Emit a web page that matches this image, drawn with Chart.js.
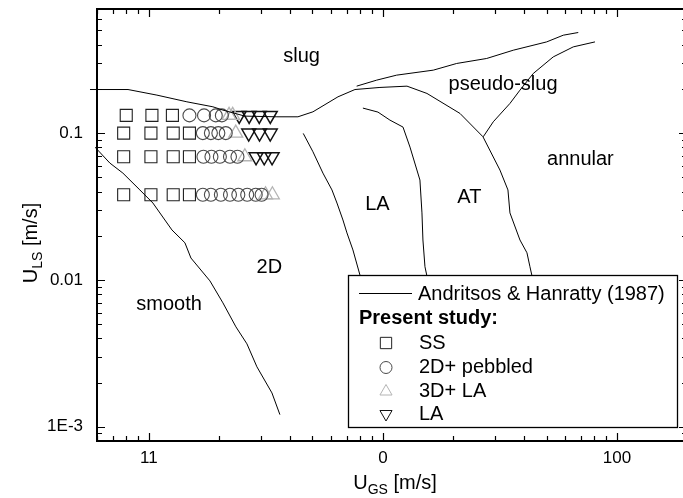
<!DOCTYPE html>
<html lang="en">
<head>
<meta charset="UTF-8">
<title>Flow regime map</title>
<script src="https://cdn.jsdelivr.net/npm/chart.js"></script>
<style>
  html, body { margin: 0; padding: 0; background: #fff; overflow: hidden; }
  canvas { display: block; }
</style>
</head>
<body>
<canvas id="regimeChart" width="683" height="498"></canvas>
<script>
// Andritsos & Hanratty (1987) transition lines, U_GS / U_LS in m/s
const slugAnnularX = [0.56, 0.814, 1.082, 1.453, 1.877, 2.071, 2.572, 3.524, 4.333, 5.022, 6.424, 7.593, 9.71, 12.67, 15.42, 21.34, 26.76, 31.62, 34.21, 34.89, 38.5, 41.25, 42.48, 43.6];
const slugAnnularY = [0.198, 0.198, 0.1814, 0.1633, 0.151, 0.1434, 0.1305, 0.1291, 0.1291, 0.1396, 0.1766, 0.198, 0.2046, 0.2088, 0.1862, 0.1361, 0.0944, 0.056, 0.041, 0.0286, 0.0187, 0.0153, 0.0123, 0.0102];

const slugPseudoX = [7.72, 9.40, 11.44, 16.41, 20.65, 27.75, 36.06, 50.07, 58.96, 68.33];
const slugPseudoY = [0.2088, 0.2294, 0.2481, 0.2683, 0.2979, 0.3222, 0.3669, 0.4179, 0.4642, 0.4842];

const pseudoAnnularX = [26.83, 29.61, 34.89, 38.5, 43.89, 53.43, 65.05, 80.54];
const pseudoAnnularY = [0.0944, 0.1194, 0.1592, 0.1961, 0.2547, 0.3304, 0.3865, 0.4179];

const twoDLaX = [4.565, 5.022, 5.541, 6.056, 6.361, 6.747, 7.018, 7.443, 7.975, 8.2];
const twoDLaY = [0.0995, 0.0746, 0.0534, 0.041, 0.0334, 0.0256, 0.0209, 0.016, 0.0108, 0.0098];

const laAtX = [8.21, 9.52, 10.71, 12.18, 13.05, 14.39, 14.68, 14.82, 15.12, 15.5];
const laAtY = [0.148, 0.139, 0.1226, 0.1099, 0.0803, 0.0479, 0.0286, 0.0187, 0.0123, 0.0102];

const smooth2dX = [0.588, 0.681, 0.774, 0.915, 1.04, 1.254, 1.425, 1.512, 1.823, 2.071, 2.354, 2.623, 2.894, 3.355, 3.628];
const smooth2dY = [0.0803, 0.0625, 0.0534, 0.041, 0.0334, 0.0219, 0.0179, 0.0141, 0.00985, 0.00698, 0.00479, 0.00367, 0.00256, 0.0017, 0.00121];

// present study, one entry per run
const ssUgs = [0.80, 1.03, 1.26, 0.78, 1.02, 1.27, 1.49, 0.78, 1.02, 1.27, 1.49, 0.78, 1.02, 1.27, 1.49];
const ssUls = [0.132, 0.132, 0.132, 0.1, 0.1, 0.1, 0.1, 0.069, 0.069, 0.069, 0.069, 0.038, 0.038, 0.038, 0.038];

const pebbledUgs = [1.49, 1.72, 1.93, 2.05, 1.70, 1.84, 1.98, 2.13, 1.71, 1.85, 2.01, 2.22, 2.39, 1.70, 1.84, 2.03, 2.22, 2.41, 2.63, 2.86, 3.03];
const pebbledUls = [0.132, 0.132, 0.132, 0.132, 0.1, 0.1, 0.1, 0.1, 0.069, 0.069, 0.069, 0.069, 0.069, 0.038, 0.038, 0.038, 0.038, 0.038, 0.038, 0.038, 0.038];

const la3dUgs = [2.20, 2.28, 2.35, 2.57, 3.15, 3.37];
const la3dUls = [0.132, 0.132, 0.1, 0.069, 0.038, 0.038];

const laUgs = [2.43, 2.68, 2.96, 3.30, 2.67, 2.97, 3.30, 2.87, 3.11, 3.36];
const laUls = [0.132, 0.132, 0.132, 0.132, 0.1, 0.1, 0.1, 0.069, 0.069, 0.069];

// tick labels as printed on the axes
const xTickValues = [1, 10, 100];
const xTickLabels = ['11', '0', '100'];
const yTickValues = [0.1, 0.01, 0.001];
const yTickLabels = ['0.1', '0.01', '1E-3'];

// regime names placed in data coordinates
const regionLabels = [
  { text: 'slug', x: 4.49, y: 0.33 },
  { text: 'pseudo-slug', x: 32.6, y: 0.215 },
  { text: 'annular', x: 69.8, y: 0.066 },
  { text: 'LA', x: 9.47, y: 0.0326 },
  { text: 'AT', x: 23.4, y: 0.0364 },
  { text: '2D', x: 3.27, y: 0.0122 },
  { text: 'smooth', x: 1.22, y: 0.0068 }
];

const FONT = '"Liberation Sans", Arial, Helvetica, sans-serif';

function toPoints(xs, ys) {
  return xs.map((x, i) => ({ x: x, y: ys[i] }));
}

function sameValue(a, b) {
  return Math.abs(Math.log10(a) - Math.log10(b)) < 1e-6;
}

function boundary(xs, ys, clip) {
  return {
    label: 'Andritsos & Hanratty (1987)',
    data: toPoints(xs, ys),
    showLine: true,
    borderColor: '#000',
    borderWidth: 1,
    pointRadius: 0,
    tension: 0,
    clip: clip || 2
  };
}

const markerSets = [
  { label: 'SS', data: toPoints(ssUgs, ssUls), pointStyle: 'rect', pointRadius: 8.5, pointRotation: 0,
    pointBorderColor: '#222', pointBorderWidth: 1.1, pointBackgroundColor: 'rgba(0,0,0,0)', legendRadius: 8 },
  { label: '2D+ pebbled', data: toPoints(pebbledUgs, pebbledUls), pointStyle: 'circle', pointRadius: 6.5, pointRotation: 0,
    pointBorderColor: '#4a4a4a', pointBorderWidth: 1.1, pointBackgroundColor: 'rgba(0,0,0,0)', legendRadius: 6 },
  { label: '3D+ LA', data: toPoints(la3dUgs, la3dUls), pointStyle: 'triangle', pointRadius: 8, pointRotation: 0,
    pointBorderColor: '#b4b4b4', pointBorderWidth: 1.3, pointBackgroundColor: 'rgba(0,0,0,0)', legendRadius: 7 },
  { label: 'LA', data: toPoints(laUgs, laUls), pointStyle: 'triangle', pointRadius: 8, pointRotation: 180,
    pointBorderColor: '#111', pointBorderWidth: 1.5, pointBackgroundColor: 'rgba(0,0,0,0)', legendRadius: 7 }
];

// frame plus inward major/minor ticks; the right-hand axis sits just past
// the canvas edge, so only the tips of its ticks show
const frameTicks = {
  id: 'frameTicks',
  afterDraw(chart) {
    const { ctx, chartArea: a, scales } = chart;
    ctx.save();
    ctx.strokeStyle = '#000';
    ctx.lineWidth = 1.2;
    const xs = scales.x, ys = scales.y;
    const marks = (scale) => {
      const out = [];
      const lo = Math.floor(Math.log10(scale.min)), hi = Math.ceil(Math.log10(scale.max));
      for (let e = lo; e <= hi; e++) {
        for (let k = 1; k <= 9; k++) {
          const v = k * Math.pow(10, e);
          if (v >= scale.min * 0.999 && v <= scale.max * 1.001) out.push({ v: v, major: k === 1 });
        }
      }
      return out;
    };
    ctx.beginPath();
    marks(xs).forEach(t => {
      const px = Math.round(xs.getPixelForValue(t.v)) + 0.5;
      const len = t.major ? 8 : 5;
      ctx.moveTo(px, a.bottom); ctx.lineTo(px, a.bottom - len);
      ctx.moveTo(px, a.top); ctx.lineTo(px, a.top + len);
    });
    const hiddenRight = a.right + 4;
    marks(ys).forEach(t => {
      const py = Math.round(ys.getPixelForValue(t.v)) + 0.5;
      const len = t.major ? 8 : 5;
      ctx.moveTo(a.left, py); ctx.lineTo(a.left + len, py);
      ctx.moveTo(hiddenRight, py); ctx.lineTo(hiddenRight - len, py);
    });
    ctx.stroke();
    ctx.lineWidth = 2;
    ctx.beginPath();
    ctx.moveTo(a.right + 2, a.top);
    ctx.lineTo(a.left, a.top);
    ctx.lineTo(a.left, a.bottom);
    ctx.lineTo(a.right + 2, a.bottom);
    ctx.stroke();
    ctx.restore();
  }
};

// regime names, legend box and axis titles
const annotations = {
  id: 'annotations',
  afterDatasetsDraw(chart) {
    const { ctx, chartArea: a, scales } = chart;
    ctx.save();
    ctx.fillStyle = '#000';
    ctx.font = '20px ' + FONT;
    ctx.textAlign = 'center';
    ctx.textBaseline = 'middle';
    regionLabels.forEach(r => {
      ctx.fillText(r.text, scales.x.getPixelForValue(r.x), scales.y.getPixelForValue(r.y));
    });

    // legend
    const box = { left: 348, top: 275, right: 677, bottom: 427 };
    ctx.fillStyle = '#fff';
    ctx.fillRect(box.left, box.top, box.right - box.left, box.bottom - box.top);
    ctx.strokeStyle = '#000';
    ctx.lineWidth = 1.3;
    ctx.strokeRect(box.left + 0.5, box.top + 0.5, box.right - box.left, box.bottom - box.top);

    ctx.lineWidth = 1;
    ctx.beginPath();
    ctx.moveTo(359, 293.5); ctx.lineTo(412, 293.5);
    ctx.stroke();
    ctx.fillStyle = '#000';
    ctx.textAlign = 'left';
    ctx.fillText('Andritsos & Hanratty (1987)', 418, 294);
    ctx.font = 'bold 20px ' + FONT;
    ctx.fillText('Present study:', 359, 318);
    ctx.font = '20px ' + FONT;
    const rowY = [343, 367.5, 391.5, 414];
    markerSets.forEach((m, i) => {
      ctx.strokeStyle = m.pointBorderColor;
      ctx.fillStyle = 'rgba(0,0,0,0)';
      Chart.helpers.drawPoint(ctx, {
        pointStyle: m.pointStyle, rotation: m.pointRotation,
        radius: m.legendRadius, borderWidth: m.pointBorderWidth
      }, 386, rowY[i]);
      ctx.fillStyle = '#000';
      ctx.fillText(m.label, 419, rowY[i]);
    });

    // axis titles with subscripts
    const title = (main, sub, tail) => {
      ctx.font = '20px ' + FONT;
      const w1 = ctx.measureText(main).width;
      const w3 = ctx.measureText(tail).width;
      ctx.font = '14px ' + FONT;
      const w2 = ctx.measureText(sub).width;
      const start = -(w1 + w2 + w3) / 2;
      ctx.textAlign = 'left';
      ctx.textBaseline = 'alphabetic';
      ctx.font = '20px ' + FONT;
      ctx.fillText(main, start, 0);
      ctx.font = '14px ' + FONT;
      ctx.fillText(sub, start + w1, 5);
      ctx.font = '20px ' + FONT;
      ctx.fillText(tail, start + w1 + w2, 0);
    };
    ctx.fillStyle = '#000';
    ctx.save();
    ctx.translate(395, 489);
    title('U', 'GS', ' [m/s]');
    ctx.restore();
    ctx.save();
    ctx.translate(37, 243);
    ctx.rotate(-Math.PI / 2);
    title('U', 'LS', ' [m/s]');
    ctx.restore();
    ctx.restore();
  }
};

const datasets = [
  boundary(slugAnnularX, slugAnnularY, { left: 8, top: 2, right: 2, bottom: 2 }),
  boundary(slugPseudoX, slugPseudoY),
  boundary(pseudoAnnularX, pseudoAnnularY),
  boundary(twoDLaX, twoDLaY),
  boundary(laAtX, laAtY),
  boundary(smooth2dX, smooth2dY)
].concat(markerSets.map(m => Object.assign({ showLine: false }, m)));

const ctx = document.getElementById('regimeChart').getContext('2d');
new Chart(ctx, {
  type: 'scatter',
  data: { datasets: datasets },
  options: {
    responsive: false,
    animation: false,
    events: [],
    layout: { autoPadding: false, padding: { top: 9, right: 0, left: 0, bottom: 0 } },
    plugins: { legend: { display: false }, tooltip: { enabled: false } },
    scales: {
      x: {
        type: 'logarithmic',
        min: 0.6,
        max: 191.5,
        grid: { display: false, drawTicks: false },
        border: { display: false },
        ticks: {
          autoSkip: false,
          maxRotation: 0,
          padding: 7,
          color: '#000',
          font: { family: FONT, size: 17 },
          callback: (value) => {
            const i = xTickValues.findIndex(v => sameValue(v, value));
            return i >= 0 ? xTickLabels[i] : '';
          }
        },
        afterFit: (scale) => {
          scale.height = 57;
          scale.paddingLeft = 0;
          scale.paddingRight = 0;
        }
      },
      y: {
        type: 'logarithmic',
        min: 0.0008,
        max: 0.7,
        grid: { display: false, drawTicks: false },
        border: { display: false },
        ticks: {
          autoSkip: false,
          padding: 14,
          color: '#000',
          font: { family: FONT, size: 17 },
          callback: (value) => {
            const i = yTickValues.findIndex(v => sameValue(v, value));
            return i >= 0 ? yTickLabels[i] : '';
          }
        },
        afterFit: (scale) => {
          scale.width = 97;
          scale.paddingTop = 0;
          scale.paddingBottom = 0;
        }
      }
    }
  },
  plugins: [frameTicks, annotations]
});
</script>
</body>
</html>
